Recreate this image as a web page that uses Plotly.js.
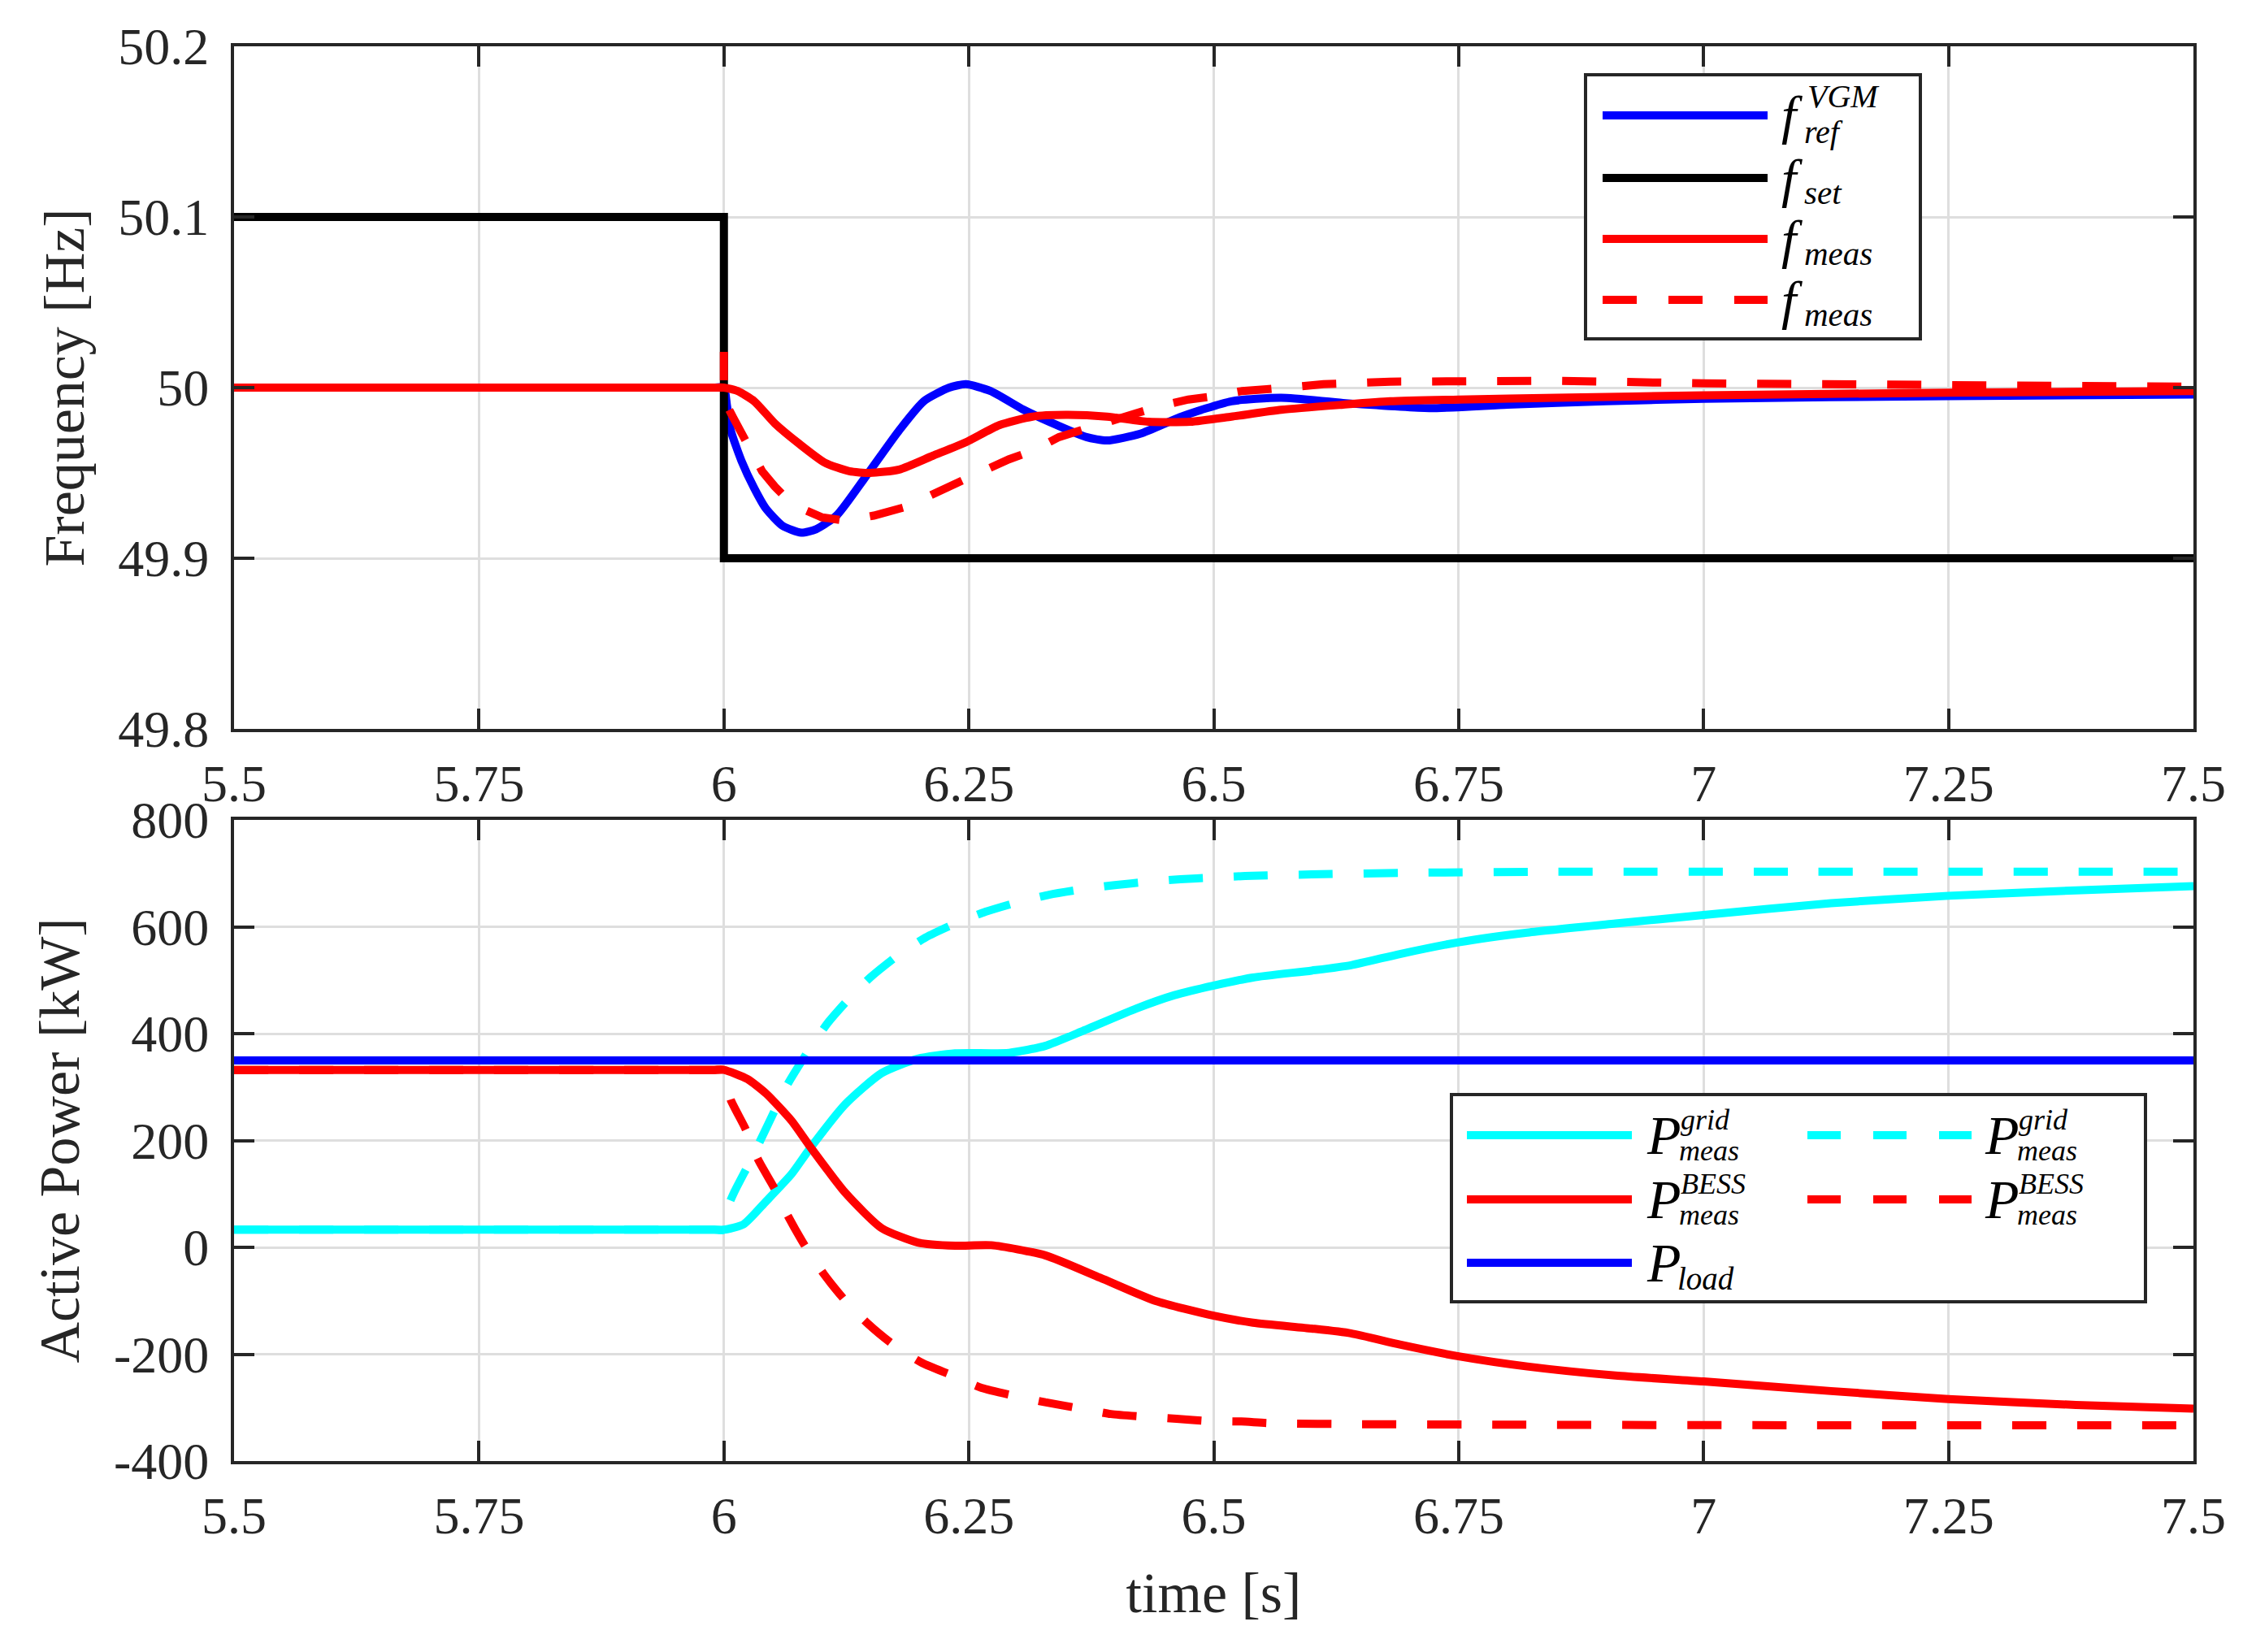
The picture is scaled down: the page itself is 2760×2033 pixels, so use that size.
<!DOCTYPE html>
<html>
<head>
<meta charset="utf-8">
<script src="https://cdn.plot.ly/plotly-3.0.1.min.js"></script>
<style>
  html, body { margin: 0; padding: 0; background: #fff; }
  #myDiv { width: 2760px; height: 2033px; }
</style>
</head>
<body>
<div id="myDiv"></div>
<script>
// ---- axis ticks ----
var xTicks = [5.5, 5.75, 6, 6.25, 6.5, 6.75, 7, 7.25, 7.5];
var xTickLabels = ['5.5', '5.75', '6', '6.25', '6.5', '6.75', '7', '7.25', '7.5'];
var fTicks = [49.8, 49.9, 50, 50.1, 50.2];
var fTickLabels = ['49.8', '49.9', '50', '50.1', '50.2'];
var pTicks = [-400, -200, 0, 200, 400, 600, 800];
var pTickLabels = ['-400', '-200', '0', '200', '400', '600', '800'];

// ---- frequency (top) ----
var tRef = [5.5, 5.75, 5.95, 5.99, 6.0, 6.003, 6.007, 6.018, 6.031, 6.043, 6.06, 6.079, 6.094, 6.115, 6.145, 6.179, 6.204, 6.23, 6.247, 6.272, 6.306, 6.34, 6.37, 6.391, 6.425, 6.467, 6.518, 6.569, 6.632, 6.72, 6.8, 6.9, 7.0, 7.25, 7.5];
var fRef = [50, 50, 50, 50, 50, 49.99, 49.975, 49.957, 49.941, 49.929, 49.919, 49.915, 49.917, 49.925, 49.948, 49.975, 49.992, 50.000, 50.002, 49.998, 49.987, 49.978, 49.971, 49.969, 49.973, 49.983, 49.992, 49.994, 49.991, 49.988, 49.990, 49.992, 49.9935, 49.995, 49.996];

var tSet = [5.5, 6, 6, 7.5];
var fSet = [50.1, 50.1, 49.9, 49.9];

var tMeas = [5.5, 5.75, 5.95, 5.99, 6.0, 6.014, 6.031, 6.052, 6.077, 6.103, 6.128, 6.149, 6.179, 6.213, 6.247, 6.281, 6.315, 6.349, 6.391, 6.433, 6.476, 6.518, 6.569, 6.632, 6.68, 6.75, 6.85, 7.0, 7.25, 7.5];
var fMeas = [50, 50, 50, 50, 50, 49.998, 49.992, 49.979, 49.967, 49.956, 49.951, 49.950, 49.952, 49.960, 49.968, 49.978, 49.983, 49.984, 49.983, 49.980, 49.980, 49.983, 49.987, 49.990, 49.992, 49.993, 49.994, 49.9955, 49.997, 49.998];

var tMeasDash = [5.5, 6.0, 6.0, 6.0, 6.009, 6.026, 6.039, 6.052, 6.064, 6.08, 6.1, 6.124, 6.153, 6.185, 6.213, 6.238, 6.264, 6.291, 6.315, 6.342, 6.368, 6.391, 6.421, 6.451, 6.474, 6.501, 6.529, 6.554, 6.582, 6.612, 6.68, 6.75, 6.85, 7.0, 7.1, 7.25, 7.4, 7.5];
var fMeasDash = [50, 50, 50.021, 49.993, 49.983, 49.965, 49.951, 49.942, 49.935, 49.929, 49.924, 49.922, 49.925, 49.930, 49.937, 49.944, 49.951, 49.958, 49.963, 49.971, 49.976, 49.980, 49.985, 49.990, 49.993, 49.995, 49.998, 49.999, 50.001, 50.002, 50.0035, 50.004, 50.004, 50.0025, 50.002, 50.0015, 50.001, 50.0005];

// ---- active power (bottom) ----
var tGrid = [5.5, 5.75, 5.95, 5.99, 6.0, 6.02, 6.043, 6.069, 6.087, 6.124, 6.161, 6.198, 6.236, 6.291, 6.328, 6.365, 6.421, 6.46, 6.5, 6.54, 6.6, 6.64, 6.69, 6.75, 6.82, 6.91, 7.0, 7.13, 7.25, 7.38, 7.5];
var pGrid = [33, 33, 33, 33, 33, 43, 86, 137, 183, 268, 326, 353, 363, 364, 377, 404, 447, 472, 490, 505, 518, 528, 549, 571, 589, 606, 622, 644, 658, 668, 676];

var tGridDash = [5.5, 5.75, 5.95, 5.99, 6.0, 6.004, 6.011, 6.028, 6.045, 6.065, 6.087, 6.106, 6.128, 6.15, 6.178, 6.206, 6.236, 6.267, 6.3, 6.332, 6.365, 6.399, 6.432, 6.466, 6.499, 6.532, 6.6, 6.7, 6.85, 7.1, 7.5];
var pGridDash = [33, 33, 33, 33, 33, 75, 105, 165, 230, 305, 370, 420, 466, 506, 547, 580, 606, 628, 646, 660, 670, 678, 684, 689, 692, 695, 698, 701, 703, 703, 703];

var tBess = [5.5, 5.75, 5.95, 5.99, 6.0, 6.024, 6.043, 6.069, 6.087, 6.124, 6.161, 6.198, 6.236, 6.273, 6.328, 6.384, 6.44, 6.5, 6.54, 6.6, 6.64, 6.69, 6.75, 6.82, 6.91, 7.0, 7.13, 7.25, 7.38, 7.5];
var pBess = [332, 332, 332, 332, 332, 315, 288, 237, 191, 102, 36, 9, 3, 4, -15, -57, -100, -128, -141, -152, -161, -182, -204, -223, -240, -251, -269, -284, -295, -302];

var tBessDash = [5.5, 5.75, 5.95, 5.99, 6.0, 6.004, 6.007, 6.022, 6.035, 6.052, 6.065, 6.083, 6.102, 6.124, 6.147, 6.172, 6.202, 6.232, 6.263, 6.297, 6.328, 6.362, 6.395, 6.428, 6.462, 6.495, 6.528, 6.557, 6.65, 6.8, 7.1, 7.5];
var pBessDash = [332, 332, 332, 332, 332, 300, 276, 222, 164, 109, 60, 2, -50, -100, -143, -181, -216, -239, -263, -278, -290, -301, -312, -317, -321, -325, -326, -329, -331, -332, -333, -333];

var tLoad = [5.5, 7.5];
var pLoad = [350, 350];

// ---- page geometry (px) ----
var W = 2760, H = 2033;
var L = 288, R = 2699, T = 57, B = 1798;
function px2x(p) { return (p - L) / (R - L); }
function py2y(p) { return (B - p) / (B - T); }

var LW = 10;
var DASH = '42px,38px';
var INK = '#262626';
var SERIF = 'Liberation Serif';

function line(x, y, color, dash, xa, ya, smooth) {
  return {
    x: x, y: y, xaxis: xa, yaxis: ya,
    type: 'scatter', mode: 'lines',
    line: { color: color, width: LW, dash: dash || 'solid', shape: smooth ? 'spline' : 'linear', smoothing: 0.6 },
    showlegend: false, hoverinfo: 'skip'
  };
}

var data = [
  line(tRef, fRef, '#0000ff', null, 'x', 'y', true),
  line(tSet, fSet, '#000000', null, 'x', 'y', false),
  line(tMeas, fMeas, '#ff0000', null, 'x', 'y', true),
  line(tMeasDash, fMeasDash, '#ff0000', DASH, 'x', 'y', false),

  line(tGrid, pGrid, '#00ffff', null, 'x2', 'y2', true),
  line(tGridDash, pGridDash, '#00ffff', DASH, 'x2', 'y2', true),
  line(tBess, pBess, '#ff0000', null, 'x2', 'y2', true),
  line(tBessDash, pBessDash, '#ff0000', DASH, 'x2', 'y2', true),
  line(tLoad, pLoad, '#0000ff', null, 'x2', 'y2', false)
];

var tickFont = { family: SERIF, size: 64, color: INK };
var titleFont = { family: SERIF, size: 70, color: INK };

function axisStyle(extra) {
  var a = {
    showline: true, mirror: 'ticks', linecolor: INK, linewidth: 4,
    ticks: 'inside', ticklen: 25, tickwidth: 4, tickcolor: INK,
    showgrid: true, gridcolor: '#dedede', gridwidth: 3,
    zeroline: false, tickfont: tickFont, automargin: false,
    tickmode: 'array'
  };
  for (var k in extra) a[k] = extra[k];
  return a;
}

var topLo = py2y(897);
var botHi = py2y(1009);

var layout = {
  width: W, height: H,
  margin: { l: L, r: W - R, t: T, b: H - B },
  paper_bgcolor: '#ffffff', plot_bgcolor: '#ffffff',
  showlegend: false,
  xaxis: axisStyle({ anchor: 'y', range: [5.5, 7.5], tickvals: xTicks, ticktext: xTickLabels, ticklabelstandoff: 8 }),
  yaxis: axisStyle({ domain: [topLo, 1], range: [49.8, 50.2], tickvals: fTicks, ticktext: fTickLabels, ticklabelstandoff: 14,
    title: { text: 'Frequency [Hz]', font: titleFont, standoff: 20 } }),
  xaxis2: axisStyle({ anchor: 'y2', range: [5.5, 7.5], tickvals: xTicks, ticktext: xTickLabels, ticklabelstandoff: 8,
    title: { text: 'time [s]', font: titleFont, standoff: 36 } }),
  yaxis2: axisStyle({ anchor: 'x2', domain: [0, botHi], range: [-400, 800], tickvals: pTicks, ticktext: pTickLabels, ticklabelstandoff: 14,
    title: { text: 'Active Power [kW]', font: titleFont, standoff: 20 } }),
  shapes: [],
  annotations: []
};

// ---- legends drawn by hand (stacked sub/superscripts) ----
function legendBox(x0, y0, x1, y1) {
  layout.shapes.push({
    type: 'rect', xref: 'paper', yref: 'paper', layer: 'above',
    x0: px2x(x0), x1: px2x(x1), y0: py2y(y1), y1: py2y(y0),
    line: { color: INK, width: 4 }, fillcolor: '#ffffff'
  });
}

function legendSample(x0, x1, y, color, dash) {
  layout.shapes.push({
    type: 'line', xref: 'paper', yref: 'paper', layer: 'above',
    x0: px2x(x0), x1: px2x(x1), y0: py2y(y), y1: py2y(y),
    line: { color: color, width: 10, dash: dash || 'solid' }
  });
}

function ann(px, py, txt, size) {
  layout.annotations.push({
    xref: 'paper', yref: 'paper', x: px2x(px), y: py2y(py),
    xanchor: 'left', yanchor: 'middle', align: 'left', showarrow: false,
    text: txt,
    font: { family: SERIF, size: size, color: '#000000', style: 'italic' }
  });
}

// main symbol, superscript above, subscript below
function legendLabel(x, y, main, sup, sub, mainSize, o) {
  ann(x, y, main, mainSize);
  if (sup) ann(o.supX, y + o.supDy, sup, o.size);
  ann(o.subX, y + o.subDy, sub, o.size);
}

// top legend
var fScript = { supX: 2222, subX: 2218, supDy: -24, subDy: 20, size: 40 };
var fSub = { subX: 2218, subDy: 18, size: 41 };
legendBox(1951, 92, 2363, 417);
var topRows = [142, 219, 294, 369];
legendSample(1972, 2175, topRows[0], '#0000ff');
legendSample(1972, 2175, topRows[1], '#000000');
legendSample(1972, 2175, topRows[2], '#ff0000');
legendSample(1972, 2175, topRows[3], '#ff0000', '42px,39px');
legendLabel(2190, topRows[0], 'f', 'VGM', 'ref', 66, fScript);
legendLabel(2190, topRows[1], 'f', null, 'set', 66, fSub);
legendLabel(2190, topRows[2], 'f', null, 'meas', 66, fSub);
legendLabel(2190, topRows[3], 'f', null, 'meas', 66, fSub);

// bottom legend
function pScript(x) { return { supX: x + 42, subX: x + 40, supDy: -19, subDy: 19, size: 36 }; }
legendBox(1786, 1347, 2640, 1602);
var botRows = [1397, 1476, 1554];
legendSample(1805, 2008, botRows[0], '#00ffff');
legendSample(2224, 2426, botRows[0], '#00ffff', '41px,40px');
legendSample(1805, 2008, botRows[1], '#ff0000');
legendSample(2224, 2426, botRows[1], '#ff0000', '41px,40px');
legendSample(1805, 2008, botRows[2], '#0000ff');
legendLabel(2024, botRows[0], 'P', 'grid', 'meas', 68, pScript(2024));
legendLabel(2440, botRows[0], 'P', 'grid', 'meas', 68, pScript(2440));
legendLabel(2024, botRows[1], 'P', 'BESS', 'meas', 68, pScript(2024));
legendLabel(2440, botRows[1], 'P', 'BESS', 'meas', 68, pScript(2440));
legendLabel(2024, botRows[2], 'P', null, 'load', 68, { subX: 2062, subDy: 19, size: 39 });

Plotly.newPlot('myDiv', data, layout, { staticPlot: true, displayModeBar: false });
</script>
</body>
</html>
